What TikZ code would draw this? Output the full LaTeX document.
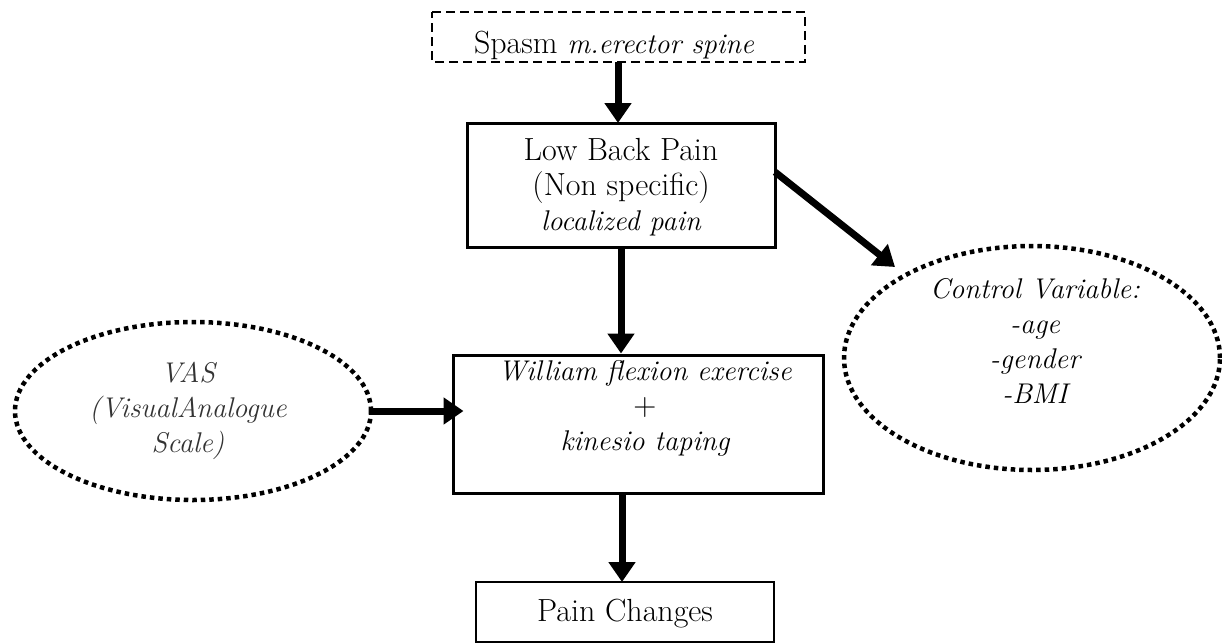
\documentclass[tikz,border=0pt]{standalone}
\usetikzlibrary{arrows.meta,shapes.geometric}
\newcommand\myit[1]{{\fontsize{28.5}{35}\selectfont\itshape #1}}
\begin{document}
\begin{tikzpicture}[x=1pt,y=-1pt,
  txt/.style={font=\fontsize{32}{35}\selectfont, align=center, inner sep=0pt},
  solidbox/.style={draw, line width=3pt},
  thinbox/.style={draw, line width=1.4pt},
  dashbox/.style={draw, line width=1.3pt, dash pattern=on 9pt off 5pt},
  dotell/.style={draw, line width=4.5pt, dash pattern=on 4.5pt off 4pt},
  bigarrow/.style={line width=7pt, -{Triangle[width=26pt,length=20pt]}}
]
\useasboundingbox (0,0) rectangle (1222,642);
% boxes
\draw[dashbox] (432,12) -- (805,12) -- (805,62) -- (432,62) -- cycle;
\node[txt] (spasm) at (614,45) {Spasm \myit{m.erector spine}};
\coordinate (spasmS) at (618,62);
\node[solidbox, minimum width=308pt, minimum height=124pt] (lbp) at (621,185) {};
\node[txt] (lbpt) at (621,187) {Low Back Pain\\(Non specific)\\\myit{localized pain}};
\node[solidbox, minimum width=370pt, minimum height=138pt] (wil) at (638,424) {};
\node[txt] (wilt) at (645,408) {\myit{William flexion exercise}\\+\\\myit{kinesio taping}};
\draw[thinbox] (476,582) -- (774,582) -- (774,642) -- (476,642) -- cycle;
\node[txt] (pain) at (625,614) {Pain Changes};
\coordinate (painN) at (622,582);
% ellipses
\node[dotell, ellipse, minimum width=356pt, minimum height=178pt] (vas) at (193,411) {};
\node[txt, text=black!80] (vast) at (188,411) {\myit{VAS}\\\myit{(VisualAnalogue}\\\myit{Scale)}};
\node[dotell, ellipse, minimum width=376pt, minimum height=224pt] (ctl) at (1032,358) {};
\node[txt] (ctlt) at (1035,341) {\myit{Control Variable:}\\\myit{-age}\\\myit{-gender}\\\myit{-BMI}};
% arrows
\draw[bigarrow] (spasmS) -- (618,123);
\draw[bigarrow] (lbp.south -| 621,0) -- (wil.north -| 621,0);
\coordinate (lbpR) at (775,172);
\draw[bigarrow] (lbpR) -- (895,267);
\draw[bigarrow] (vas.east) -- ([xshift=12pt]wil.west |- vas.east);
\draw[bigarrow] (wil.south -| 622,0) -- (painN);
\end{tikzpicture}
\end{document}
